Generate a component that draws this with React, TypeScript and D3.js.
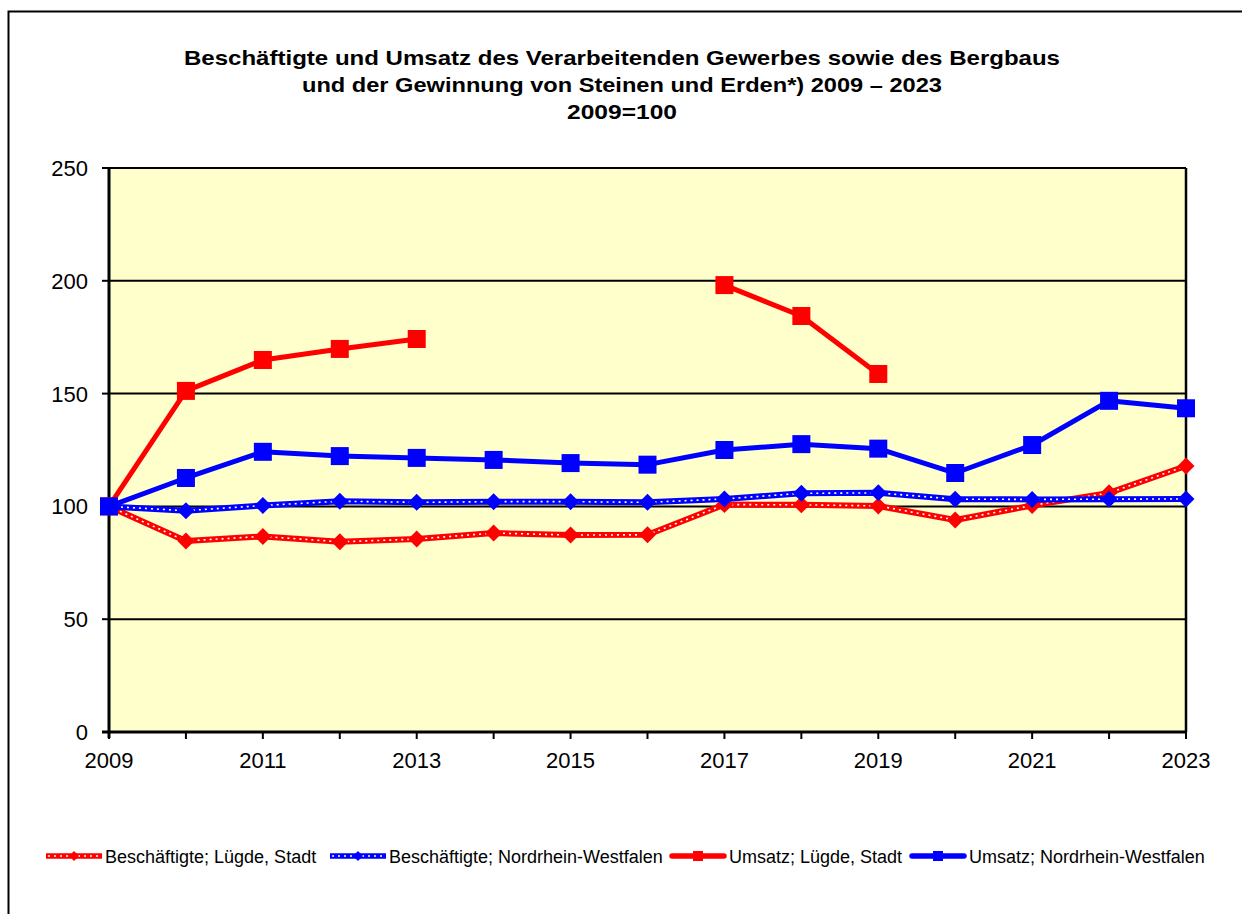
import React, { useEffect, useRef } from "react";
import * as d3 from "d3";

const years = [2009, 2010, 2011, 2012, 2013, 2014, 2015, 2016, 2017, 2018, 2019, 2020, 2021, 2022, 2023];
const xTickLabels = [2009, 2011, 2013, 2015, 2017, 2019, 2021, 2023];
const yTicks = [0, 50, 100, 150, 200, 250];

const beschLuegde: (number | null)[] = [100, 84.7, 86.7, 84.3, 85.5, 88.2, 87.3, 87.4, 100.8, 100.7, 100.2, 94, 100.4, 106, 117.9];
const beschNRW: (number | null)[] = [100, 98.1, 100.4, 102.3, 101.8, 102.1, 102.1, 101.8, 103.3, 105.8, 106, 103.2, 103.1, 103.2, 103.3];
const umsatzLuegde: (number | null)[] = [100, 151.2, 164.9, 169.8, 174.2, null, null, null, 198.1, 184.4, 158.7, null, null, null, null];
const umsatzNRW: (number | null)[] = [100, 112.6, 124.2, 122.3, 121.5, 120.6, 119.2, 118.5, 125, 127.6, 125.6, 114.8, 127.2, 146.8, 143.5];

const titleLines = [
  "Beschäftigte und Umsatz des Verarbeitenden Gewerbes sowie des Bergbaus",
  "und der Gewinnung von Steinen und Erden*) 2009 – 2023",
  "2009=100",
];

const seriesNames = [
  "Beschäftigte; Lügde, Stadt",
  "Beschäftigte; Nordrhein-Westfalen",
  "Umsatz; Lügde, Stadt",
  "Umsatz; Nordrhein-Westfalen",
];

const RED = "#FF0000";
const BLUE = "#0000FF";

export default function App() {
  const ref = useRef<SVGSVGElement>(null);

  useEffect(() => {
    const svg = d3.select(ref.current);
    svg.selectAll("*").remove();
    const W = 1242, H = 914;
    const L = 109, R = 1186, T = 168, B = 732;
    const font = "Liberation Sans, Arial, sans-serif";

    svg.append("rect").attr("x", 0).attr("y", 0).attr("width", W).attr("height", H).attr("fill", "#fff");
    // outer border
    svg.append("rect").attr("x", 8.5).attr("y", 11.5).attr("width", 1260).attr("height", 940)
      .attr("fill", "none").attr("stroke", "#000").attr("stroke-width", 2);

    const x = d3.scaleLinear().domain([2009, 2023]).range([L, R]);
    const y = d3.scaleLinear().domain([0, 250]).range([B, T]);

    // plot bg
    svg.append("rect").attr("x", L).attr("y", T).attr("width", R - L).attr("height", B - T)
      .attr("fill", "#FFFFCC");

    // grid
    svg.append("g").selectAll("line").data(yTicks.filter(v => v > 0)).join("line")
      .attr("x1", L).attr("x2", R).attr("y1", d => y(d)).attr("y2", d => y(d))
      .attr("stroke", "#000").attr("stroke-width", 2);
    // right border
    svg.append("line").attr("x1", R).attr("x2", R).attr("y1", T).attr("y2", B)
      .attr("stroke", "#000").attr("stroke-width", 2.5);

    // y axis
    const yAxis = svg.append("g");
    yAxis.append("line").attr("x1", L).attr("x2", L).attr("y1", T - 1).attr("y2", B + 6)
      .attr("stroke", "#000").attr("stroke-width", 3);
    yAxis.selectAll("line.t").data(yTicks).join("line").attr("class", "t")
      .attr("x1", L - 7).attr("x2", L).attr("y1", d => y(d)).attr("y2", d => y(d))
      .attr("stroke", "#000").attr("stroke-width", 2);
    yAxis.selectAll("text").data(yTicks).join("text")
      .attr("x", 88).attr("y", d => y(d) + 8).attr("text-anchor", "end")
      .attr("font-family", font).attr("font-size", 22).text(d => String(d));

    // x axis
    const xAxis = svg.append("g");
    xAxis.append("line").attr("x1", L - 7).attr("x2", R + 1).attr("y1", B).attr("y2", B)
      .attr("stroke", "#000").attr("stroke-width", 3);
    xAxis.selectAll("line.t").data(years).join("line").attr("class", "t")
      .attr("x1", d => x(d)).attr("x2", d => x(d)).attr("y1", B).attr("y2", B + 7)
      .attr("stroke", "#000").attr("stroke-width", 2);
    xAxis.selectAll("text").data(xTickLabels).join("text")
      .attr("x", d => x(d)).attr("y", B + 36).attr("text-anchor", "middle")
      .attr("font-family", font).attr("font-size", 22).text(d => String(d));

    // title
    const titleLens = [876, 640, 110];
    svg.append("g").selectAll("text").data(titleLines).join("text")
      .attr("x", 622).attr("y", (_, i) => 65 + i * 27).attr("text-anchor", "middle")
      .attr("font-family", font).attr("font-weight", "bold").attr("font-size", 20.5)
      .attr("textLength", (_, i) => titleLens[i]).attr("lengthAdjust", "spacingAndGlyphs")
      .text(d => d);

    const line = d3.line<number | null>()
      .defined(d => d !== null)
      .x((_, i) => x(years[i]))
      .y(d => y(d as number));

    const diamond = (g: any, vals: (number | null)[], color: string, s: number) => {
      g.selectAll("path.m").data(vals.map((v, i) => ({ v, i })).filter(d => d.v !== null)).join("path")
        .attr("class", "m")
        .attr("d", (d: any) => {
          const cx = x(years[d.i]), cy = y(d.v);
          return `M${cx},${cy - s}L${cx + s},${cy}L${cx},${cy + s}L${cx - s},${cy}Z`;
        })
        .attr("fill", color);
    };
    const square = (g: any, vals: (number | null)[], color: string, s: number) => {
      g.selectAll("rect.m").data(vals.map((v, i) => ({ v, i })).filter(d => d.v !== null)).join("rect")
        .attr("class", "m")
        .attr("x", (d: any) => x(years[d.i]) - s).attr("y", (d: any) => y(d.v) - s)
        .attr("width", 2 * s).attr("height", 2 * s).attr("fill", color);
    };

    const drawBesch = (vals: (number | null)[], color: string) => {
      const g = svg.append("g");
      g.append("path").attr("d", line(vals)).attr("fill", "none").attr("stroke", color)
        .attr("stroke-width", 6).attr("stroke-linejoin", "round");
      g.append("path").attr("d", line(vals)).attr("fill", "none").attr("stroke", "#fff")
        .attr("stroke-width", 1.6).attr("stroke-dasharray", "2,4");
      diamond(g, vals, color, 8.5);
    };
    const drawUmsatz = (vals: (number | null)[], color: string) => {
      const g = svg.append("g");
      g.append("path").attr("d", line(vals)).attr("fill", "none").attr("stroke", color)
        .attr("stroke-width", 5).attr("stroke-linejoin", "round");
      square(g, vals, color, 9);
    };

    drawBesch(beschLuegde, RED);
    drawBesch(beschNRW, BLUE);
    drawUmsatz(umsatzLuegde, RED);
    drawUmsatz(umsatzNRW, BLUE);

    // legend
    const legendX = [46, 330, 670, 910];
    const legendColors = [RED, BLUE, RED, BLUE];
    const ly = 856;
    const lg = svg.append("g");
    seriesNames.forEach((name, i) => {
      const x0 = legendX[i];
      const len = 56;
      const g = lg.append("g");
      if (i < 2) {
        g.append("line").attr("x1", x0).attr("x2", x0 + len).attr("y1", ly).attr("y2", ly)
          .attr("stroke", legendColors[i]).attr("stroke-width", 5.5);
        g.append("line").attr("x1", x0 + 2).attr("x2", x0 + len).attr("y1", ly).attr("y2", ly)
          .attr("stroke", "#fff").attr("stroke-width", 1.6).attr("stroke-dasharray", "2,4");
        const cx = x0 + len / 2, s = 5;
        g.append("path").attr("d", `M${cx},${ly - s}L${cx + s},${ly}L${cx},${ly + s}L${cx - s},${ly}Z`)
          .attr("fill", legendColors[i]);
      } else {
        g.append("line").attr("x1", x0 + 2).attr("x2", x0 + len - 2).attr("y1", ly).attr("y2", ly)
          .attr("stroke", legendColors[i]).attr("stroke-width", 5.5).attr("stroke-linecap", "round");
        g.append("rect").attr("x", x0 + len / 2 - 5).attr("y", ly - 5).attr("width", 10).attr("height", 10)
          .attr("fill", legendColors[i]);
      }
      g.append("text").attr("x", x0 + len + 3).attr("y", ly + 6.5)
        .attr("font-family", font).attr("font-size", 18).text(name);
    });
  }, []);

  return (
    <svg ref={ref} width={1242} height={914}
      style={{ position: "absolute", left: 0, top: 0, display: "block" }} />
  );
}
